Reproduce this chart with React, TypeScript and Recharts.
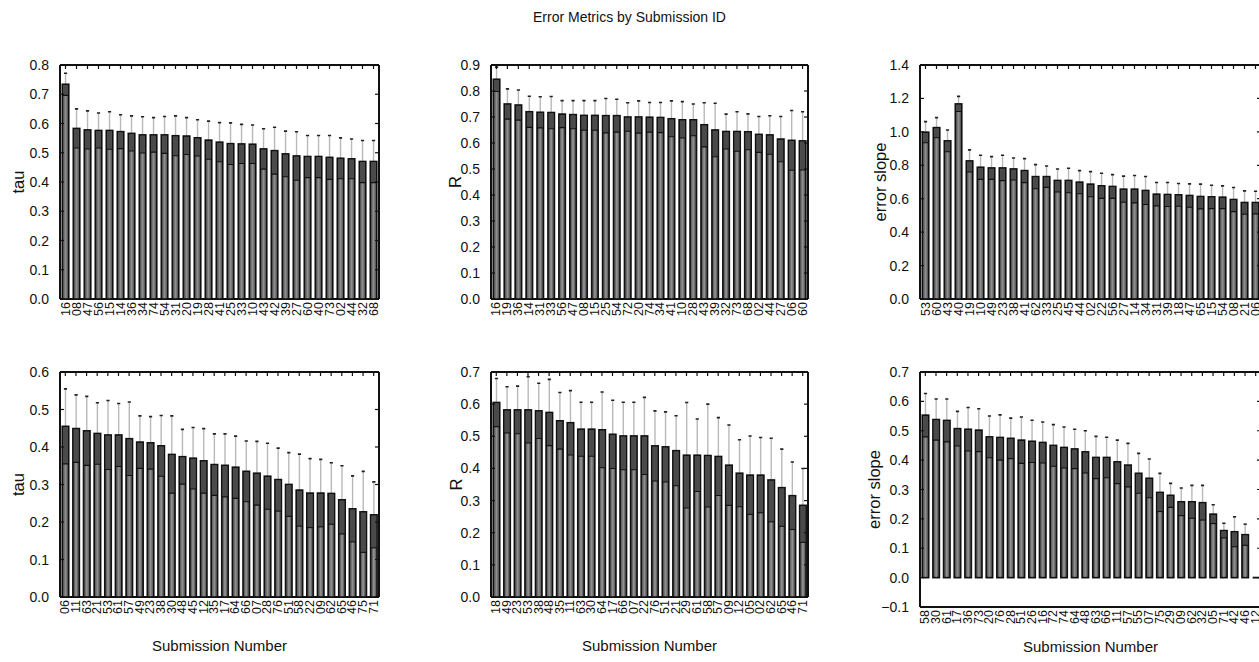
import React from 'react';
import { BarChart, Bar, XAxis, YAxis, CartesianGrid } from 'recharts';

const FONT = '"Liberation Sans", Arial, Helvetica, sans-serif';

// ---------- data ----------
const topTauIds = ['16','08','47','56','15','14','36','34','74','54','31','20','19','28','41','25','33','10','43','42','39','27','60','40','73','02','44','32','68'];
const topTauValues = [0.734,0.583,0.578,0.576,0.576,0.572,0.566,0.561,0.561,0.561,0.558,0.557,0.551,0.543,0.536,0.531,0.530,0.529,0.513,0.507,0.496,0.489,0.487,0.487,0.484,0.481,0.479,0.470,0.470];
const topTauErrors = [0.038,0.067,0.065,0.060,0.064,0.058,0.060,0.062,0.059,0.063,0.068,0.063,0.062,0.065,0.067,0.071,0.067,0.066,0.069,0.080,0.078,0.083,0.072,0.072,0.075,0.070,0.068,0.072,0.072];
const topTauTicks = [0, 0.1, 0.2, 0.3, 0.4, 0.5, 0.6, 0.7, 0.8];

const topRIds = ['16','19','36','14','31','33','56','47','08','15','25','54','72','20','74','34','41','10','28','43','39','32','73','68','02','44','27','06','60'];
const topRValues = [0.845,0.750,0.746,0.720,0.718,0.717,0.711,0.709,0.706,0.706,0.705,0.705,0.700,0.700,0.699,0.698,0.693,0.689,0.689,0.670,0.650,0.644,0.644,0.643,0.633,0.631,0.615,0.610,0.608];
const topRErrors = [0.047,0.058,0.058,0.060,0.060,0.062,0.052,0.054,0.057,0.057,0.066,0.063,0.055,0.062,0.057,0.058,0.069,0.070,0.061,0.085,0.103,0.067,0.076,0.069,0.069,0.074,0.087,0.115,0.112];
const topRTicks = [0, 0.1, 0.2, 0.3, 0.4, 0.5, 0.6, 0.7, 0.8, 0.9];

const topSlopeIds = ['53','60','43','40','19','10','49','23','38','41','62','33','25','45','44','02','22','56','27','14','34','31','39','18','47','65','15','54','08','21','06'];
const topSlopeValues = [0.998,1.025,0.946,1.167,0.826,0.788,0.784,0.784,0.778,0.768,0.732,0.732,0.709,0.709,0.699,0.687,0.677,0.673,0.657,0.657,0.649,0.627,0.625,0.623,0.619,0.613,0.611,0.609,0.595,0.577,0.577];
const topSlopeErrors = [0.063,0.060,0.065,0.045,0.066,0.072,0.068,0.076,0.066,0.072,0.072,0.064,0.069,0.073,0.069,0.075,0.075,0.071,0.078,0.082,0.084,0.070,0.072,0.068,0.070,0.074,0.070,0.068,0.072,0.070,0.068];
const topSlopeTicks = [0, 0.2, 0.4, 0.6, 0.8, 1.0, 1.2, 1.4];

const botTauIds = ['06','11','63','21','53','61','57','49','23','38','30','48','45','12','35','17','64','66','07','28','76','51','58','22','09','62','65','46','75','71'];
const botTauValues = [0.455,0.449,0.443,0.436,0.432,0.432,0.422,0.413,0.411,0.403,0.380,0.374,0.370,0.363,0.353,0.351,0.346,0.335,0.330,0.322,0.313,0.300,0.285,0.277,0.277,0.276,0.259,0.235,0.227,0.219];
const botTauErrors = [0.100,0.090,0.092,0.082,0.092,0.084,0.098,0.070,0.070,0.081,0.103,0.073,0.082,0.086,0.082,0.084,0.083,0.081,0.085,0.088,0.084,0.085,0.096,0.092,0.090,0.082,0.091,0.088,0.108,0.088];
const botTauTicks = [0, 0.1, 0.2, 0.3, 0.4, 0.5, 0.6];

const botRIds = ['18','49','23','53','38','48','35','11','63','30','64','17','66','07','22','76','51','21','29','61','58','57','09','12','05','02','62','65','46','71'];
const botRValues = [0.605,0.582,0.582,0.582,0.579,0.574,0.548,0.542,0.522,0.522,0.520,0.506,0.501,0.501,0.501,0.470,0.467,0.455,0.441,0.441,0.440,0.437,0.410,0.385,0.379,0.379,0.364,0.340,0.315,0.285];
const botRErrors = [0.075,0.072,0.074,0.103,0.086,0.103,0.088,0.100,0.084,0.084,0.118,0.106,0.105,0.105,0.120,0.109,0.109,0.109,0.164,0.113,0.160,0.121,0.125,0.104,0.122,0.117,0.130,0.120,0.105,0.115];
const botRTicks = [0, 0.1, 0.2, 0.3, 0.4, 0.5, 0.6, 0.7];

const botSlopeIds = ['58','30','61','17','36','73','20','76','28','51','26','16','72','74','64','48','63','66','11','57','55','07','75','29','09','62','32','05','71','42','46','12'];
const botSlopeValues = [0.553,0.538,0.535,0.507,0.505,0.502,0.479,0.477,0.474,0.468,0.464,0.460,0.450,0.443,0.438,0.428,0.409,0.409,0.394,0.383,0.355,0.338,0.290,0.280,0.258,0.258,0.255,0.216,0.160,0.156,0.146,0];
const botSlopeErrors = [0.074,0.070,0.073,0.059,0.074,0.073,0.071,0.077,0.069,0.079,0.072,0.070,0.071,0.070,0.067,0.072,0.072,0.069,0.074,0.074,0.068,0.066,0.065,0.041,0.047,0.056,0.059,0.032,0.025,0.051,0.036,0];
const botSlopeTicks = [-0.1, 0, 0.1, 0.2, 0.3, 0.4, 0.5, 0.6, 0.7];

type Row = { id: string; value: number; err: number };
const build = (ids: string[], vals: number[], errs: number[]): Row[] =>
  ids.map((id, i) => ({ id, value: vals[i], err: errs[i] }));

// ---------- bar shape with error bar ----------
const BarShape = (props: any) => {
  const { x, y, width, height, payload } = props;
  const v: number = payload ? payload.value : 0;
  const e: number = payload ? payload.err : 0;
  if (x == null || y == null || !width) return <g />;
  const bx = x + 0.8;
  const bw = width - 1.6;
  const cx = x + width / 2;
  if (!height || !v) {
    return <line x1={bx} x2={bx + bw} y1={y} y2={y} stroke="#111" strokeWidth={1.8} />;
  }
  const ppu = height / v;
  const yLow = y + e * ppu;
  const yTop = y - e * ppu;
  const bottom = y + height;
  return (
    <g>
      <line x1={cx} x2={cx} y1={yTop} y2={y} stroke="#b9b9b9" strokeWidth={1.4} />
      <line x1={cx - 1.6} x2={cx + 1.6} y1={yTop} y2={yTop} stroke="#222" strokeWidth={1.6} />
      <rect x={bx} y={y} width={bw} height={height} fill="#686868" stroke="#111" strokeWidth={1.7} />
      <rect x={bx + 0.85} y={y + 0.85} width={Math.max(0, bw - 1.7)} height={Math.max(0, yLow - y - 0.85)} fill="#4a4a4a" />
      <rect x={cx - 0.9} y={yLow} width={1.8} height={Math.max(0, bottom - yLow - 0.85)} fill="#8e8e8e" />
      <line x1={bx} x2={bx + bw} y1={yLow} y2={yLow} stroke="#111" strokeWidth={1.1} />
    </g>
  );
};

// ---------- panel ----------
const YW = 60;
const MT = 10;
const MR = 12;
const XH = 30;
const MB = 40;

type PanelProps = {
  data: Row[];
  domain: [number, number];
  ticks: number[];
  yLabel: string;
  plotLeft: number;
  plotTop: number;
  plotW: number;
  plotH: number;
  yLabelX: number;
  xLabel?: string;
  xLabelDy?: number;
};

const fmt = (v: number) => v.toFixed(1).replace('-', '\u2212');

function Panel(p: PanelProps) {
  const W = YW + p.plotW + MR;
  const H = MT + p.plotH + XH + MB;
  const plotL = YW;
  const plotR = YW + p.plotW;
  const plotT = MT;
  const plotB = MT + p.plotH;

  const yTick = (tp: any) => (
    <g>
      <line x1={plotL} x2={plotL + 4} y1={tp.y} y2={tp.y} stroke="#111" strokeWidth={1.2} />
      <line x1={plotR - 4} x2={plotR} y1={tp.y} y2={tp.y} stroke="#111" strokeWidth={1.2} />
      <text x={plotL - 11} y={tp.y} textAnchor="end" dominantBaseline="central" fontSize={14} fill="#111" fontFamily={FONT}>
        {fmt(Number(tp.payload.value))}
      </text>
    </g>
  );

  const xTick = (tp: any) => (
    <g>
      <line x1={tp.x} x2={tp.x} y1={plotT} y2={plotT + 4} stroke="#111" strokeWidth={1.2} />
      <text
        transform={`translate(${tp.x},${plotB + 3}) rotate(-90)`}
        textAnchor="end"
        dominantBaseline="central"
        fontSize={12.5}
        fill="#111"
        fontFamily={FONT}
      >
        {tp.payload.value}
      </text>
    </g>
  );

  const yLabelContent = () => (
    <text
      transform={`translate(${p.yLabelX},${plotT + p.plotH / 2}) rotate(-90)`}
      textAnchor="middle"
      dominantBaseline="central"
      fontSize={16.5}
      fill="#111"
      fontFamily={FONT}
    >
      {p.yLabel}
    </text>
  );

  const xLabelContent = () =>
    p.xLabel ? (
      <text
        x={plotL + p.plotW / 2}
        y={plotB + (p.xLabelDy ?? 48)}
        textAnchor="middle"
        dominantBaseline="central"
        fontSize={15}
        fill="#111"
        fontFamily={FONT}
      >
        {p.xLabel}
      </text>
    ) : (
      <g />
    );

  return (
    <div style={{ position: 'absolute', left: p.plotLeft - YW, top: p.plotTop - MT, width: W, height: H }}>
      <BarChart
        width={W}
        height={H}
        data={p.data}
        margin={{ top: MT, right: MR, bottom: MB, left: 0 }}
        barCategoryGap="14%"
      >
        <CartesianGrid
          stroke="#111"
          strokeWidth={2}
          fill="none"
          horizontalPoints={[plotT, plotB]}
          verticalPoints={[plotL, plotR]}
        />
        <Bar dataKey="value" isAnimationActive={false} shape={BarShape} />
        <XAxis
          dataKey="id"
          type="category"
          interval={0}
          height={XH}
          tickLine={false}
          axisLine={false}
          tickSize={0}
          tickMargin={3}
          tick={xTick}
          label={{ content: xLabelContent } as any}
        />
        <YAxis
          type="number"
          domain={p.domain}
          ticks={p.ticks}
          interval={0}
          allowDataOverflow
          width={YW}
          tickLine={false}
          axisLine={false}
          tick={yTick}
          label={{ content: yLabelContent } as any}
        />
      </BarChart>
    </div>
  );
}

export default function App() {
  return (
    <div
      style={{
        position: 'fixed',
        left: 0,
        top: 0,
        width: 1259,
        height: 662,
        overflow: 'hidden',
        background: '#fff',
      }}
    >
      <div
        style={{
          position: 'absolute',
          left: 0,
          top: 9,
          width: 1259,
          textAlign: 'center',
          fontFamily: FONT,
          fontSize: 14,
          lineHeight: '17px',
          color: '#111',
        }}
      >
        Error Metrics by Submission ID
      </div>

      <Panel data={build(topTauIds, topTauValues, topTauErrors)} domain={[0, 0.8]} ticks={topTauTicks} yLabel="tau"
        plotLeft={60} plotTop={65} plotW={319} plotH={234} yLabelX={18} />
      <Panel data={build(topRIds, topRValues, topRErrors)} domain={[0, 0.9]} ticks={topRTicks} yLabel="R"
        plotLeft={491} plotTop={65} plotW={317} plotH={234} yLabelX={24} />
      <Panel data={build(topSlopeIds, topSlopeValues, topSlopeErrors)} domain={[0, 1.4]} ticks={topSlopeTicks} yLabel="error slope"
        plotLeft={920} plotTop={65} plotW={341} plotH={234} yLabelX={20} />

      <Panel data={build(botTauIds, botTauValues, botTauErrors)} domain={[0, 0.6]} ticks={botTauTicks} yLabel="tau"
        plotLeft={60} plotTop={372} plotW={319} plotH={225} yLabelX={18} xLabel="Submission Number" xLabelDy={48} />
      <Panel data={build(botRIds, botRValues, botRErrors)} domain={[0, 0.7]} ticks={botRTicks} yLabel="R"
        plotLeft={491} plotTop={372} plotW={317} plotH={225} yLabelX={25} xLabel="Submission Number" xLabelDy={48} />
      <Panel data={build(botSlopeIds, botSlopeValues, botSlopeErrors)} domain={[-0.1, 0.7]} ticks={botSlopeTicks} yLabel="error slope"
        plotLeft={920} plotTop={372} plotW={341} plotH={235} yLabelX={14} xLabel="Submission Number" xLabelDy={39} />
    </div>
  );
}
